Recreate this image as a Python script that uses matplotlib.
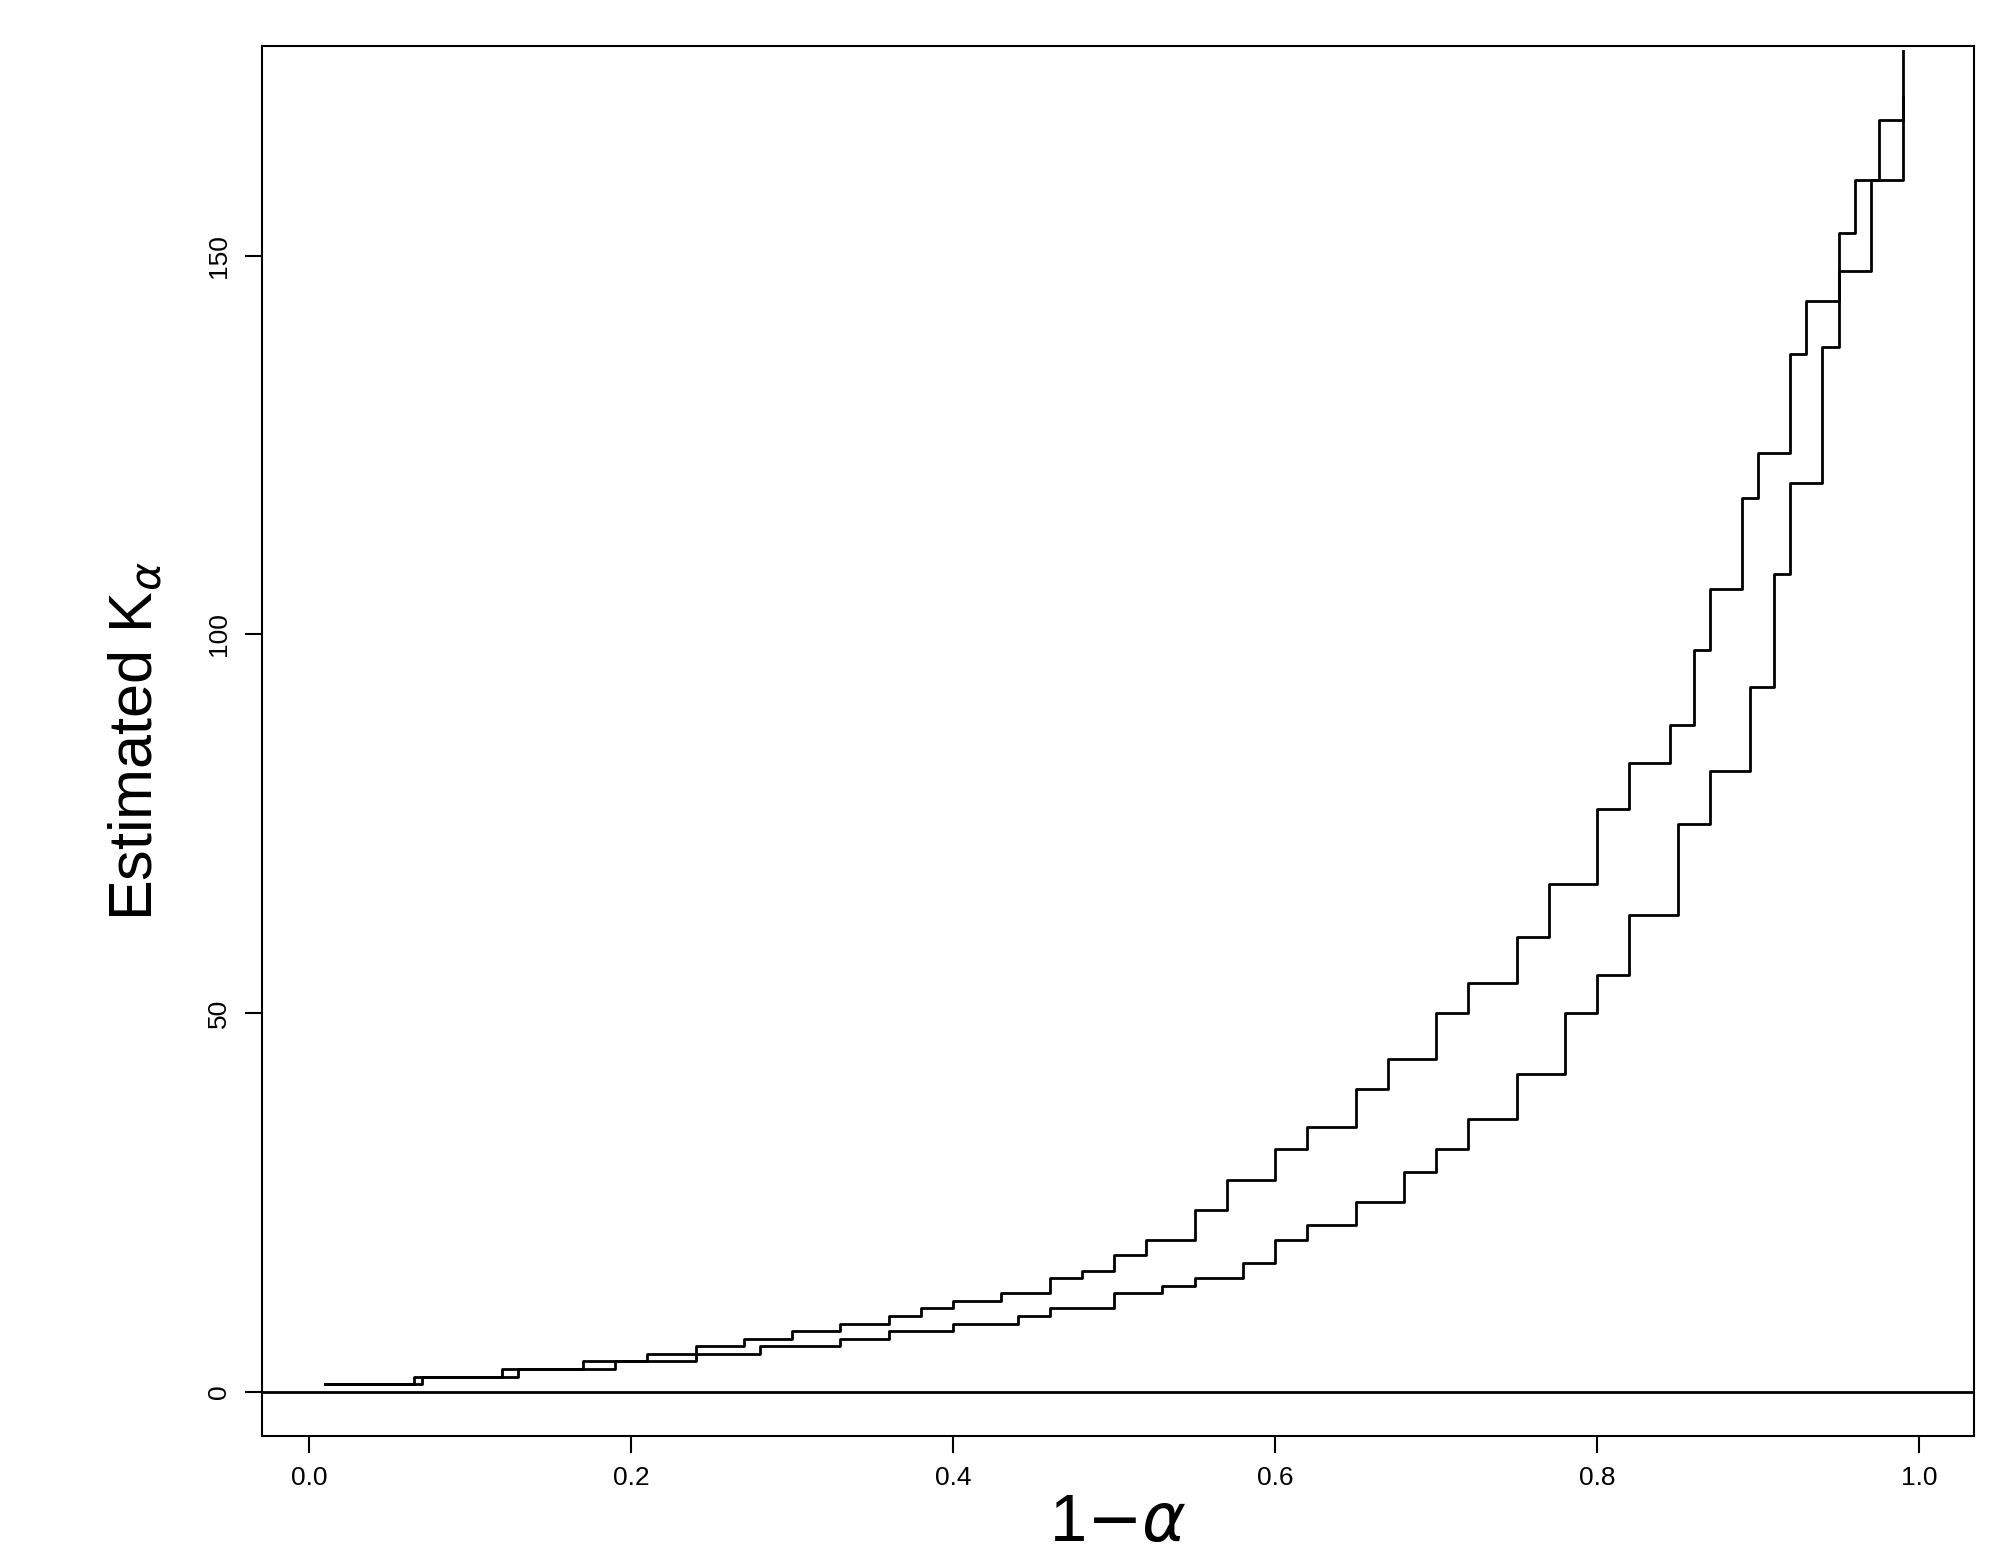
import numpy as np
import matplotlib.pyplot as plt

plt.rcParams['font.family'] = ['Liberation Sans', 'DejaVu Sans']

# upper curve (1-alpha, K)
upper_x = [0.01, 0.065, 0.12, 0.17, 0.21, 0.24, 0.27, 0.30, 0.33, 0.36, 0.38, 0.40,
           0.43, 0.46, 0.48, 0.50, 0.52, 0.55, 0.57, 0.60, 0.62, 0.65, 0.67, 0.70,
           0.72, 0.75, 0.77, 0.80, 0.82, 0.845, 0.86, 0.87, 0.89, 0.90, 0.92, 0.93,
           0.95, 0.96, 0.975, 0.99]
upper_y = [1, 2, 3, 4, 5, 6, 7, 8, 9, 10, 11, 12,
           13, 15, 16, 18, 20, 24, 28, 32, 35, 40, 44, 50,
           54, 60, 67, 77, 83, 88, 98, 106, 118, 124, 137, 144,
           153, 160, 168, 177]

# lower curve
lower_x = [0.01, 0.07, 0.13, 0.19, 0.24, 0.28, 0.33, 0.36, 0.40, 0.44, 0.46, 0.50,
           0.53, 0.55, 0.58, 0.60, 0.62, 0.65, 0.68, 0.70, 0.72, 0.75, 0.78, 0.80,
           0.82, 0.85, 0.87, 0.895, 0.91, 0.92, 0.94, 0.95, 0.97, 0.99]
lower_y = [1, 2, 3, 4, 5, 6, 7, 8, 9, 10, 11, 13,
           14, 15, 17, 20, 22, 25, 29, 32, 36, 42, 50, 55,
           63, 75, 82, 93, 108, 120, 138, 148, 160, 171]

fig = plt.figure(figsize=(20.12, 15.63), dpi=100)
ax = fig.add_axes([0.130, 0.0815, 0.851, 0.889])

ax.step(upper_x, upper_y, where='post', color='black', lw=2)
ax.step(lower_x, lower_y, where='post', color='black', lw=2)
ax.axhline(0, color='black', lw=2)

ax.set_xlim(-0.0296, 1.034)
ax.set_ylim(-5.8, 177.7)
ax.set_xticks([0.0, 0.2, 0.4, 0.6, 0.8, 1.0])
ax.set_xticklabels(['0.0', '0.2', '0.4', '0.6', '0.8', '1.0'], fontsize=19)
ax.set_yticks([0, 50, 100, 150])
ax.set_yticklabels(['0', '50', '100', '150'], fontsize=19, rotation=90, va='center')
ax.tick_params(length=12, width=1.5, pad=10)
for s in ax.spines.values():
    s.set_linewidth(1.5)

ax.set_xlabel(r'1$-\alpha$', fontsize=48, labelpad=2)
ax.set_ylabel(r'Estimated K$_{\alpha}$', fontsize=44, labelpad=30)

fig.savefig('out.png', dpi=100)
